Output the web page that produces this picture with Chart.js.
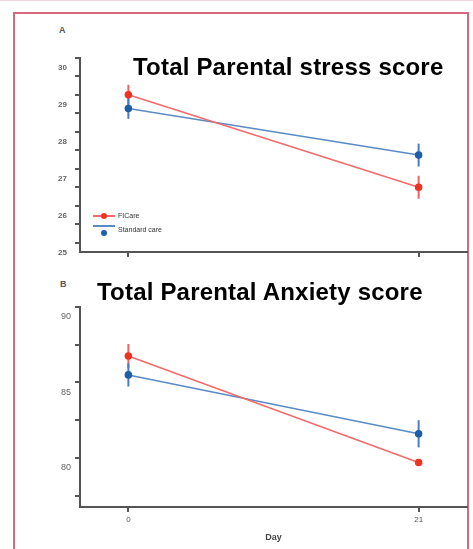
<!DOCTYPE html>
<html>
<head>
<meta charset="utf-8">
<script src="https://cdn.jsdelivr.net/npm/chart.js@4"></script>
<style>
body { margin: 0; width: 473px; height: 549px; position: relative; overflow: hidden; background: #fff; font-family: "Liberation Sans", Arial, sans-serif; }
.topline { position: absolute; left: 0; top: 0; width: 473px; height: 1px; background: #f3d3dc; }
.frame { position: absolute; left: 13px; top: 12px; width: 456px; height: 570px; border: 2px solid #d9687f; box-sizing: border-box; }
.box { position: absolute; left: 0; width: 473px; }
.panel { position: absolute; font-size: 9px; font-weight: bold; color: #555; }
.title { position: absolute; font-size: 24px; line-height: 28px; font-weight: bold; color: #000; white-space: nowrap; letter-spacing: 0.2px; }
.legend { position: absolute; left: 93px; font-size: 7px; color: #333; white-space: nowrap; }
.legend div { position: relative; height: 14px; line-height: 14px; padding-left: 25px; }
.legend i { position: absolute; left: 0; top: 6px; width: 22px; height: 2px; }
.legend b { position: absolute; left: 8px; top: 4px; width: 6px; height: 6px; border-radius: 50%; }
</style>
</head>
<body>
<div class="topline"></div>
<div class="frame"></div>

<div class="box" style="top:45px;height:227px"><canvas id="chartA"></canvas></div>
<div class="box" style="top:297px;height:252px"><canvas id="chartB"></canvas></div>

<div class="panel" style="left:59px;top:25px">A</div>
<div class="title" style="left:133px;top:53px">Total Parental stress score</div>
<div class="panel" style="left:60px;top:279px">B</div>
<div class="title" style="left:97px;top:278px">Total Parental Anxiety score</div>

<div class="legend" style="top:209px">
  <div><i style="background:#f26b6b"></i><b style="background:#ee3322"></b>FICare</div>
  <div><i style="background:#5b8ac4;top:2px"></i><b style="background:#1f5fa8;top:7px"></b>Standard care</div>
</div>

<script>
var days = [0, 21];
var dayTicks = [0, 21];

var stressFICare = [29.0, 26.5];
var stressFICareErr = [0.27, 0.31];
var stressStandard = [28.63, 27.37];
var stressStandardErr = [0.28, 0.31];

var anxietyFICare = [86.75, 79.7];
var anxietyFICareErr = [0.8, 0.2];
var anxietyStandard = [85.5, 81.6];
var anxietyStandardErr = [0.77, 0.9];

var axisColor = '#555';

// vertical error bars, drawn through the chart's own scales
var errorBars = {
  id: 'errorBars',
  beforeDatasetsDraw: function(chart) {
    var ctx = chart.ctx, xs = chart.scales.x, ys = chart.scales.y;
    chart.data.datasets.forEach(function(ds) {
      ctx.save();
      ctx.strokeStyle = ds.errorColor;
      ctx.lineWidth = 2;
      ds.data.forEach(function(p, i) {
        var x = xs.getPixelForValue(p.x);
        ctx.beginPath();
        ctx.moveTo(x, ys.getPixelForValue(p.y - ds.errors[i]));
        ctx.lineTo(x, ys.getPixelForValue(p.y + ds.errors[i]));
        ctx.stroke();
      });
      ctx.restore();
    });
  }
};

function points(vals) {
  return days.map(function(d, i) { return {x: d, y: vals[i]}; });
}

function series(vals, errs, line, point, errColor) {
  return {
    data: points(vals),
    errors: errs,
    errorColor: errColor,
    borderColor: line,
    borderWidth: 1.6,
    pointBackgroundColor: point,
    pointBorderColor: point,
    pointRadius: 3,
    fill: false,
    tension: 0
  };
}

function makeChart(id, datasets, yMin, yMax, step, major, yFont, yPad, showX, xHeight) {
  return new Chart(document.getElementById(id).getContext('2d'), {
    type: 'line',
    data: { datasets: datasets },
    plugins: [errorBars],
    options: {
      responsive: true,
      maintainAspectRatio: false,
      animation: false,
      layout: { padding: { top: 10, right: 6, left: 0, bottom: 0 } },
      plugins: { legend: { display: false }, tooltip: { enabled: false } },
      scales: {
        x: {
          type: 'linear',
          min: -3.5,
          max: 24.5,
          afterBuildTicks: function(s) { s.ticks = dayTicks.map(function(v) { return {value: v}; }); },
          afterFit: function(s) { s.height = xHeight; },
          grid: { drawOnChartArea: false, drawTicks: true, tickLength: 5, color: axisColor, lineWidth: 2 },
          border: { color: axisColor, width: 2 },
          ticks: { display: showX, color: '#555', font: { size: 8, family: 'Liberation Sans' }, padding: 3 },
          title: { display: showX, text: 'Day', color: '#444', font: { size: 9, weight: 'bold', family: 'Liberation Sans' }, padding: { top: 0, bottom: 6 } }
        },
        y: {
          min: yMin,
          max: yMax,
          afterFit: function(s) { s.width = 80; },
          grid: { drawOnChartArea: false, drawTicks: true, tickLength: 5, color: axisColor, lineWidth: 2 },
          border: { color: axisColor, width: 2 },
          ticks: {
            stepSize: step,
            includeBounds: false,
            labelOffset: 10,
            padding: yPad,
            color: '#666',
            font: yFont,
            callback: function(v) { return Math.abs(v % major) < 1e-6 ? v : ''; }
          }
        }
      }
    }
  });
}

makeChart('chartA', [
  series(stressFICare, stressFICareErr, '#f26b6b', '#ee3322', '#f56060'),
  series(stressStandard, stressStandardErr, '#5b8ac4', '#1f5fa8', '#4a7cc0')
], 24.75, 30, 0.5, 1, { size: 8, weight: 'bold', family: 'Liberation Sans' }, 8, false, 20);

makeChart('chartB', [
  series(anxietyFICare, anxietyFICareErr, '#f26b6b', '#ee3322', '#f56060'),
  series(anxietyStandard, anxietyStandardErr, '#5b8ac4', '#1f5fa8', '#4a7cc0')
], 76.75, 90, 2.5, 5, { size: 9, family: 'Liberation Sans' }, 4, true, 42);
</script>
</body>
</html>
